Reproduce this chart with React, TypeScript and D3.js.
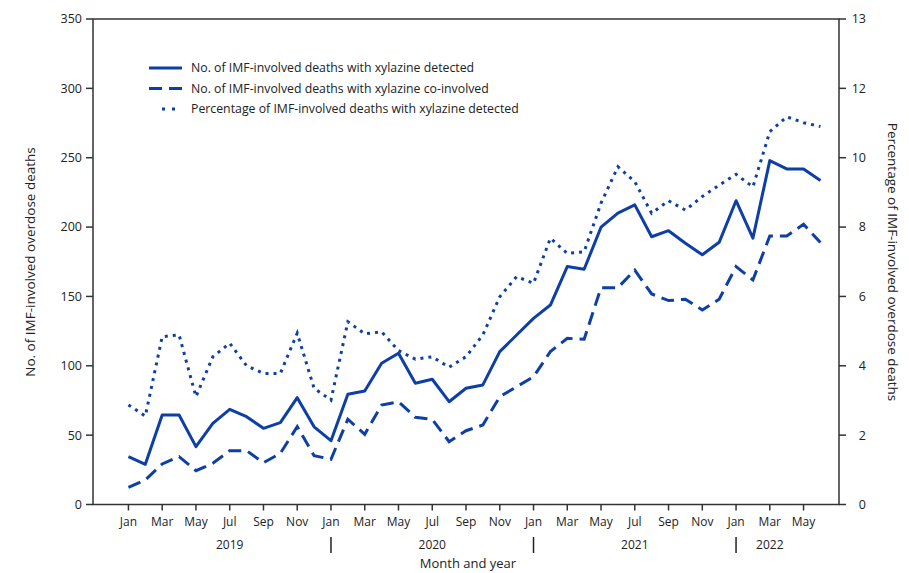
import React from "react";
import * as d3 from "d3";

const months = ["Jan","Feb","Mar","Apr","May","Jun","Jul","Aug","Sep","Oct","Nov","Dec"];
const nPoints = 42;

const detected = [34.5,29,64.5,64.5,41.7,58.5,68.6,63.3,54.9,59,77,56,
  46,79.5,81.8,101.8,109,87.4,90.3,74.1,83.8,86.2,110.2,122.2,
  134.2,143.8,171.5,169.6,199.9,210,216,193,197.4,188.3,180,189,
  219,192,247.9,241.9,241.9,233.5];
const coInvolved = [12.4,17.7,29.2,34.5,24.4,29.7,38.8,38.8,30.1,36.9,56.1,35.2,
  32.6,61.5,50.6,71.7,74.1,62.9,61.4,45.3,53.2,57.3,77.7,84.9,
  92.1,110.2,119.8,119.1,156.3,156.3,169,151.8,147,148,140.2,148,
  171.5,161.9,193.6,193.6,202,188.8];
const pctDetected = [2.87,2.55,4.84,4.89,3.11,4.26,4.65,4.0,3.78,3.78,4.94,3.35,
  3.01,5.27,4.92,4.98,4.44,4.19,4.26,3.96,4.26,4.89,5.99,6.57,
  6.38,7.68,7.24,7.29,8.69,9.74,9.31,8.4,8.76,8.49,8.88,9.21,
  9.52,9.16,10.75,11.18,11.01,10.9];

const leftTicks = [0,50,100,150,200,250,300,350];
const rightTickValues = [0,2,4,6,8,10,12,14];
const rightTickLabels = ["0","2","4","6","8","10","12","13"];
const monthTickIdx = d3.range(0, 42, 2);
const yearLabels = [{ label: "2019", idx: 6 }, { label: "2020", idx: 18 }, { label: "2021", idx: 30 }, { label: "2022", idx: 38 }];
const yearSeparators = [12, 24, 36];

const legendItems = [
  { label: "No. of IMF-involved deaths with xylazine detected", dash: "none", x0: 149 },
  { label: "No. of IMF-involved deaths with xylazine co-involved", dash: "13,7", x0: 149 },
  { label: "Percentage of IMF-involved deaths with xylazine detected", dash: "3,7", x0: 162 },
];

const W = 909, H = 573;
const L = 93, R = 839, T = 19, B = 504.5;
const COLOR = "#0d3fa6";
const AX = "#333";
const FONT = "'Open Sans', sans-serif";

export default function App() {
  const x = d3.scaleLinear().domain([-2.1, 42.1]).range([L, R]);
  const yL = d3.scaleLinear().domain([0, 350]).range([B, T]);
  const yR = d3.scaleLinear().domain([0, 14]).range([B, T]);
  const lineL = (vals: number[]) => d3.line<number>().x((_, i) => x(i)).y((v) => yL(v))(vals.slice(0, nPoints)) || "";
  const lineR = (vals: number[]) => d3.line<number>().x((_, i) => x(i)).y((v) => yR(v))(vals.slice(0, nPoints)) || "";

  return (
    <svg width={W} height={H} style={{ position: "absolute", left: 0, top: 0, background: "#fff" }} fontFamily={FONT}>
      <rect x={0} y={0} width={W} height={H} fill="#fff" />
      <rect x={L} y={T} width={R - L} height={B - T} fill="none" stroke={AX} strokeWidth={1.5} />
      {leftTicks.map((v) => (
        <g key={"l" + v}>
          <line x1={L - 7} x2={L} y1={yL(v)} y2={yL(v)} stroke={AX} strokeWidth={1.5} />
          <text x={L - 11} y={yL(v)} dy="0.35em" textAnchor="end" fontSize={12.5} fill="#222">{v}</text>
        </g>
      ))}
      {rightTickValues.map((v, i) => (
        <g key={"r" + v}>
          <line x1={R} x2={R + 7} y1={yR(v)} y2={yR(v)} stroke={AX} strokeWidth={1.5} />
          <text x={866} y={yR(v)} dy="0.35em" textAnchor="end" fontSize={12.5} fill="#222">{rightTickLabels[i]}</text>
        </g>
      ))}
      {monthTickIdx.map((i) => (
        <g key={"m" + i}>
          <line x1={x(i)} x2={x(i)} y1={B} y2={B + 6} stroke={AX} strokeWidth={1.5} />
          <text x={x(i)} y={522} dy="0.35em" textAnchor="middle" fontSize={12} fill="#222">{months[i % 12]}</text>
        </g>
      ))}
      {yearLabels.map((d) => (
        <text key={d.label} x={x(d.idx)} y={545} dy="0.35em" textAnchor="middle" fontSize={12} fill="#222">{d.label}</text>
      ))}
      {yearSeparators.map((i) => (
        <line key={"s" + i} x1={x(i)} x2={x(i)} y1={537} y2={553} stroke="#222" strokeWidth={1.5} />
      ))}
      <text x={468} y={563} dy="0.35em" textAnchor="middle" fontSize={13} fill="#222">Month and year</text>
      <text transform={`translate(30,262) rotate(-90)`} textAnchor="middle" dy="0.35em" fontSize={13.5} fill="#222">
        No. of IMF-involved overdose deaths
      </text>
      <text transform={`translate(893,262) rotate(90)`} textAnchor="middle" dy="0.35em" fontSize={13.5} fill="#222">
        Percentage of IMF-involved overdose deaths
      </text>
      <path d={lineR(pctDetected)} fill="none" stroke={COLOR} strokeWidth={3} strokeDasharray="3,5" />
      <path d={lineL(coInvolved)} fill="none" stroke={COLOR} strokeWidth={3} strokeDasharray="13,7" />
      <path d={lineL(detected)} fill="none" stroke={COLOR} strokeWidth={3} strokeLinejoin="round" />
      {legendItems.map((d, i) => (
        <g key={"lg" + i} transform={`translate(0, ${68 + i * 20.5})`}>
          <line x1={d.x0} x2={182} y1={0} y2={0} stroke={COLOR} strokeWidth={3} strokeDasharray={d.dash} />
          <text x={191} y={0} dy="0.35em" fontSize={12.3} fill="#222">{d.label}</text>
        </g>
      ))}
    </svg>
  );
}
